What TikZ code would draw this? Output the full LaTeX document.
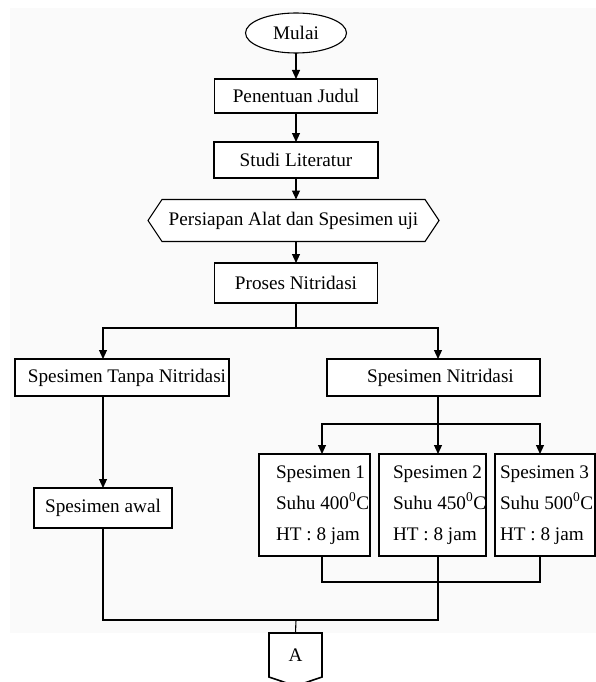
\documentclass[tikz,border=0pt]{standalone}
\usepackage{fontspec}
\setmainfont{Liberation Serif}
\usepackage{tikz}
\usetikzlibrary{shapes.geometric,arrows.meta}
\usepackage{xcolor}
\definecolor{pagegray}{RGB}{250,250,250}

\begin{document}
\begin{tikzpicture}[x=1pt,y=-1pt,line width=1.1pt,
            every node/.style={font=\fontsize{19.2pt}{31pt}\selectfont,inner sep=0pt,outer sep=0pt},
            box/.style={draw,fill=white,rectangle},
            spectext/.style={anchor=west,align=left},
            arr/.style={-{Triangle[width=8pt,length=9pt]}}
            ]
            \useasboundingbox (0,0) rectangle (596,682);
            \fill[pagegray] (10,8) rectangle (596,633);

            \node[draw,fill=white,ellipse,minimum width=101pt,minimum height=40pt] (mulai) at (296,33) {Mulai};
            \node[box,minimum width=163pt,minimum height=34pt] (judul) at (296,96) {Penentuan Judul};
            \node[box,minimum width=164pt,minimum height=36pt] (studi) at (296,160) {Studi Literatur};
            \node[minimum width=263pt,minimum height=42pt] (siap) at (293.5,220.5) {};
            \draw[fill=white] (siap.north west) -- (siap.north east) -- ([xshift=14pt]siap.east) -- (siap.south east)
                  -- (siap.south west) -- ([xshift=-14pt]siap.west) -- cycle;
            \node at (siap) {Persiapan Alat dan Spesimen uji};
            \node[box,minimum width=163pt,minimum height=40pt] (proses) at (296,283) {Proses Nitridasi};

            \node[box,minimum width=214pt,minimum height=37pt] (tanpa) at (122,377.5) {\hspace*{10pt}Spesimen Tanpa Nitridasi};
            \node[box,minimum width=213pt,minimum height=37pt] (nitri) at (433.5,377.5) {\hspace*{14pt}Spesimen Nitridasi};
            \node[box,minimum width=138pt,minimum height=40pt] (awal) at (103,508) {Spesimen awal};

            \node[box,minimum width=111pt,minimum height=102pt] (s1) at (314.5,505) {};
            \node[box,minimum width=107pt,minimum height=102pt] (s2) at (432.5,505) {};
            \node[box,minimum width=100pt,minimum height=102pt] (s3) at (545,505) {};
            \node[spectext] (s1t) at ([xshift=17pt]s1.west) {Spesimen 1\\Suhu 400\textsuperscript{0}C\\HT : 8 jam};
            \node[spectext] (s2t) at ([xshift=14pt]s2.west) {Spesimen 2\\Suhu 450\textsuperscript{0}C\\HT : 8 jam};
            \node[spectext] (s3t) at ([xshift=5pt]s3.west) {Spesimen 3\\Suhu 500\textsuperscript{0}C\\HT : 8 jam};

            \node[minimum width=53pt,minimum height=44pt] (A) at (295.5,655) {};
            \draw[line width=1.6pt,fill=white] (A.north west) -- (A.north east) -- (A.south east) -- ([yshift=-9pt]A.south)
                  -- (A.south west) -- cycle;
            \node at (A) {A};

            \coordinate (fork) at (296,328);
            \coordinate (bus) at (438,424);
            \coordinate (merge) at (438,582);
            \coordinate (join) at (296,620);

            \draw[arr] (mulai) -- (judul);
            \draw[arr] (judul) -- (studi);
            \draw[arr] (studi.south) -- (studi.south |- siap.north);
            \draw[arr] (siap.south -| proses) -- (proses);
            \draw (proses) -- (fork);
            \draw[arr] (fork) -| (awal |- tanpa.north);
            \draw[arr] (fork) -| (bus |- nitri.north);
            \draw[arr] (awal |- tanpa.south) -- (awal);
            \draw (bus |- nitri.south) -- (bus);
            \draw[arr] (bus) -- (bus |- s2.north);
            \draw[arr] (bus) -| ([xshift=7.5pt]s1.north);
            \draw[arr] (bus) -| ([xshift=-5pt]s3.north);
            \draw ([xshift=7.5pt]s1.south) |- (merge) -| ([xshift=-5pt]s3.south);
            \draw (awal.south) |- (bus |- join) -- (bus |- s2.south);
            \draw (join) -- (A.north);
\end{tikzpicture}
\end{document}
